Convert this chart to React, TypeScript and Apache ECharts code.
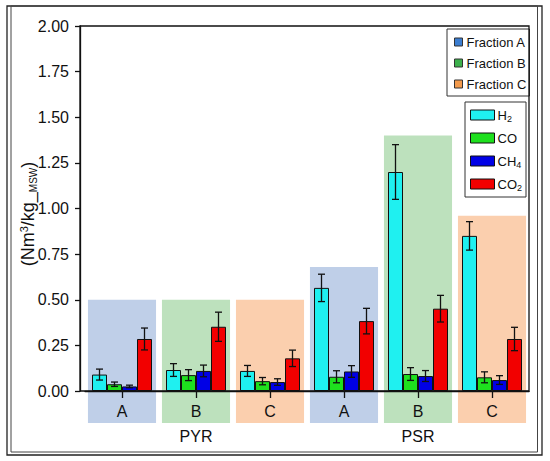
import React, { useEffect, useRef } from "react";
import * as echarts from "echarts";

const CATEGORIES = ["A", "B", "C", "A", "B", "C"];
const GROUP_LABELS = ["", "PYR", "", "", "PSR", ""];
const GASES = ["H2", "CO", "CH4", "CO2"];
const GAS_COLORS = ["#1ff0f0", "#1ee01e", "#0000e6", "#f20000"];

const H2 = [0.09, 0.115, 0.11, 0.565, 1.2, 0.85];
const H2_ERR = [0.03, 0.035, 0.03, 0.075, 0.15, 0.078];
const CO = [0.037, 0.087, 0.054, 0.078, 0.093, 0.075];
const CO_ERR = [0.012, 0.03, 0.02, 0.033, 0.035, 0.03];
const CH4 = [0.025, 0.11, 0.049, 0.107, 0.082, 0.06];
const CH4_ERR = [0.007, 0.032, 0.018, 0.032, 0.03, 0.024];
const CO2 = [0.285, 0.352, 0.179, 0.383, 0.451, 0.285];
const CO2_ERR = [0.06, 0.08, 0.045, 0.07, 0.073, 0.064];

const FRACTIONS = ["Fraction A", "Fraction B", "Fraction C"];
const FRACTION_COLORS = ["#3b7dd0", "#3cb04c", "#f29a4c"];
const FRACTION_FILLS = ["#bfcfe8", "#bde1bd", "#fbcfae"];
const FRACTION_OF_CATEGORY = [0, 1, 2, 0, 1, 2];
const FRACTION_TOPS = [0.5, 0.5, 0.5, 0.68, 1.4, 0.96];
const FRACTION_BOTTOM = -0.175;

const Y_MIN = 0;
const Y_MAX = 2;
const Y_INTERVAL = 0.25;

const BAR_W = 15;
const FONT = "Liberation Sans, Arial, sans-serif";

const VALUES = [H2, CO, CH4, CO2];
const ERRORS = [H2_ERR, CO_ERR, CH4_ERR, CO2_ERR];

const gasLabel = (n: string) =>
  n === "H2" ? "H{sub|2}" : n === "CH4" ? "CH{sub|4}" : n === "CO2" ? "CO{sub|2}" : n;

export default function App() {
  const ref = useRef<HTMLDivElement>(null);
  useEffect(() => {
    document.body.style.margin = "0";
    const chart = echarts.init(ref.current!, null, { renderer: "svg" });

    const fractionSeries = FRACTIONS.map((name, f) => ({
      name,
      type: "custom",
      z: 1,
      clip: false,
      itemStyle: { color: FRACTION_COLORS[f], borderColor: "#333", borderWidth: 1 },
      encode: { x: 0, y: 1 },
      data: CATEGORIES.map((_, i) => [i, FRACTION_TOPS[i]]).filter(
        (_, i) => FRACTION_OF_CATEGORY[i] === f
      ),
      renderItem: (params: any, api: any) => {
        const x = api.value(0);
        const top = api.coord([x, api.value(1)]);
        const bot = api.coord([x, FRACTION_BOTTOM]);
        const w = api.size([1, 0])[0] * 0.92;
        return {
          type: "rect",
          shape: { x: top[0] - w / 2, y: top[1], width: w, height: bot[1] - top[1] },
          style: { fill: FRACTION_FILLS[f] },
        };
      },
    }));

    const barSeries = GASES.map((name, g) => ({
      name,
      type: "bar",
      z: 2,
      barWidth: BAR_W,
      barGap: "0%",
      itemStyle: { color: GAS_COLORS[g], borderColor: "#111", borderWidth: 1 },
      data: VALUES[g],
    }));

    const errorData: number[][] = [];
    GASES.forEach((_, g) =>
      CATEGORIES.forEach((_, i) => errorData.push([i, g, VALUES[g][i], ERRORS[g][i]]))
    );

    const errorSeries = {
      name: "errors",
      type: "custom",
      z: 5,
      encode: { x: 0, y: 2 },
      data: errorData,
      renderItem: (params: any, api: any) => {
        const cat = api.value(0);
        const g = api.value(1);
        const v = api.value(2);
        const e = api.value(3);
        const hi = api.coord([cat, v + e]);
        const lo = api.coord([cat, v - e]);
        const x = hi[0] + (g - 1.5) * BAR_W;
        const cap = 3.5;
        const style = { stroke: "#111", lineWidth: 1.3 };
        return {
          type: "group",
          children: [
            { type: "line", shape: { x1: x, y1: hi[1], x2: x, y2: lo[1] }, style },
            { type: "line", shape: { x1: x - cap, y1: hi[1], x2: x + cap, y2: hi[1] }, style },
            { type: "line", shape: { x1: x - cap, y1: lo[1], x2: x + cap, y2: lo[1] }, style },
          ],
        };
      },
    };

    chart.setOption({
      animation: false,
      textStyle: { fontFamily: FONT },
      grid: { left: 85, right: 21, top: 26, bottom: 70, containLabel: false },
      legend: [
        {
          data: FRACTIONS,
          orient: "vertical",
          left: 447,
          top: 29,
          icon: "rect",
          itemWidth: 8,
          itemHeight: 8,
          itemGap: 5,
          padding: [5, 3, 4, 7],
          borderColor: "#333",
          borderWidth: 1,
          selectedMode: false,
          itemStyle: { borderColor: "#333", borderWidth: 1 },
          textStyle: { fontSize: 13, lineHeight: 16, color: "#111", fontFamily: FONT, padding: [0, 0, 0, -1] },
        },
        {
          data: GASES,
          orient: "vertical",
          left: 465,
          top: 102,
          icon: "rect",
          itemWidth: 24,
          itemHeight: 10,
          itemGap: 7,
          padding: [5, 4, 5, 5],
          borderColor: "#333",
          borderWidth: 1,
          selectedMode: false,
          itemStyle: { borderColor: "#111", borderWidth: 1 },
          formatter: gasLabel,
          textStyle: {
            fontSize: 13,
            color: "#111",
            fontFamily: FONT,
            lineHeight: 16,
            padding: [0, 0, 0, -2],
            rich: {
              sub: { fontSize: 9, fontFamily: FONT, color: "#111", verticalAlign: "bottom", lineHeight: 9 },
            },
          },
        },
      ],
      xAxis: [
        {
          type: "category",
          data: CATEGORIES,
          position: "bottom",
          z: 4,
          axisLine: { show: true, lineStyle: { color: "#111", width: 1.3 } },
          axisTick: { show: true, alignWithLabel: true, length: 7, lineStyle: { color: "#111", width: 1.3 } },
          axisLabel: { margin: 12, fontSize: 16, color: "#111", fontFamily: FONT, interval: 0 },
          splitLine: { show: false },
        },
        {
          type: "category",
          data: GROUP_LABELS,
          position: "bottom",
          offset: 0,
          z: 4,
          axisLine: { show: false },
          axisTick: { show: false },
          axisLabel: { margin: 37, fontSize: 16, color: "#111", fontFamily: FONT, interval: 0 },
          splitLine: { show: false },
        },
      ],
      yAxis: {
        type: "value",
        min: Y_MIN,
        max: Y_MAX,
        interval: Y_INTERVAL,
        offset: 5,
        z: 4,
        name: "(Nm{sup|3}/kg_{sub|MSW})",
        nameLocation: "middle",
        nameGap: 42,
        nameRotate: 90,
        nameMoveOverlap: false,
        nameTextStyle: {
          fontSize: 18,
          color: "#111",
          fontFamily: FONT,
          lineHeight: 20,
          padding: [0, 11, 0, 0],
          rich: {
            sup: { fontSize: 11, fontFamily: FONT, color: "#111", verticalAlign: "top", lineHeight: 11 },
            sub: { fontSize: 10, fontFamily: FONT, color: "#111", verticalAlign: "bottom", lineHeight: 12 },
          },
        },
        axisLine: { show: true, lineStyle: { color: "#111", width: 1.3 } },
        axisTick: { show: true, length: 5, lineStyle: { color: "#111", width: 1.3 } },
        axisLabel: {
          margin: 11,
          fontSize: 16,
          color: "#111",
          fontFamily: FONT,
          formatter: (v: number) => v.toFixed(2),
        },
        splitLine: { show: false },
      },
      graphic: [
        {
          type: "rect",
          silent: true,
          shape: { x: 7, y: 6, width: 535, height: 449 },
          style: { fill: "none", stroke: "#222", lineWidth: 1.3 },
        },
        {
          type: "rect",
          silent: true,
          shape: { x: 11, y: 6, width: 526.5, height: 446 },
          style: { fill: "none", stroke: "#444", lineWidth: 1 },
        },
        {
          type: "rect",
          silent: true,
          z: 100,
          shape: { x: 80, y: 26, width: 449, height: 365 },
          style: { fill: "none", stroke: "#111", lineWidth: 1.3 },
        },
      ],
      series: [...fractionSeries, ...barSeries, errorSeries],
    });
    return () => chart.dispose();
  }, []);
  return <div ref={ref} style={{ width: 550, height: 461 }} />;
}
